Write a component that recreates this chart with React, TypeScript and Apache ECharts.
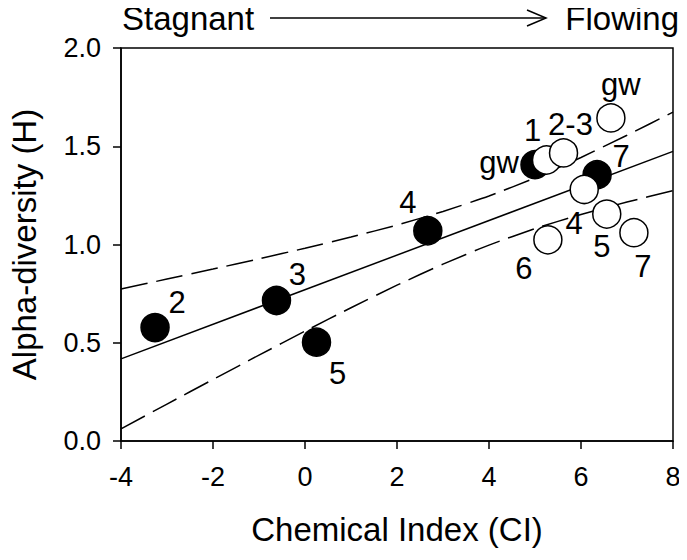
import React, { useEffect, useRef } from "react";
import * as echarts from "echarts";

// Filled circles
const filledLabels = ["2", "3", "5", "4", "gw", "7"];
const filledX = [-3.26, -0.62, 0.25, 2.67, 5.0, 6.35];
const filledY = [0.577, 0.715, 0.503, 1.07, 1.406, 1.355];

// Open circles
const openLabels = ["1", "2-3", "gw", "4", "5", "7", "6"];
const openX = [5.25, 5.62, 6.65, 6.07, 6.56, 7.15, 5.28];
const openY = [1.43, 1.466, 1.644, 1.28, 1.155, 1.06, 1.024];

// Regression line and confidence band
const fitX = [-4, 8];
const fitY = [0.418, 1.474];
const bandX = [-4, -3, -2, -1, 0, 1, 2, 3, 4, 5, 6, 7, 8];
const bandUpper = [0.774, 0.824, 0.875, 0.927, 0.981, 1.038, 1.099, 1.168, 1.247, 1.339, 1.443, 1.556, 1.674];
const bandLower = [0.062, 0.188, 0.313, 0.437, 0.559, 0.678, 0.793, 0.9, 0.997, 1.081, 1.153, 1.216, 1.274];

// Label offsets (pixels, style only)
const filledLabelOffsets: number[][] = [[22, -25], [21, -26], [21, 31], [-20, -28], [-36, -2], [24, -18]];
const openLabelOffsets: number[][] = [[-14, -30], [7, -28], [10, -33], [-10, 34], [-5, 32], [9, 34], [-24, 29]];

const FONT = "'Liberation Sans', Arial, sans-serif";

export default function App() {
  const ref = useRef<HTMLDivElement>(null);
  useEffect(() => {
    if (!ref.current) return;
    const chart = echarts.init(ref.current, undefined, { renderer: "svg" });
    const labelStyle = (off: number[], text: string) => ({
      show: true,
      position: "inside",
      offset: off,
      formatter: text,
      fontSize: 31,
      color: "#000",
      fontFamily: FONT,
      textBorderWidth: 0,
    });
    const option: any = {
      animation: false,
      backgroundColor: "#fff",
      textStyle: { fontFamily: FONT },
      grid: {
        left: 121,
        right: 14,
        top: 48,
        bottom: 119,
        show: true,
        borderColor: "#000",
        borderWidth: 1.5,
        backgroundColor: "transparent",
      },
      xAxis: {
        type: "value",
        min: -4,
        max: 8,
        interval: 2,
        axisLine: { show: true, onZero: false, lineStyle: { color: "#000", width: 1.5 } },
        axisTick: { show: true, inside: false, length: 8, lineStyle: { color: "#000", width: 1.5 } },
        axisLabel: { color: "#000", fontSize: 27, margin: 22, fontFamily: FONT },
        splitLine: { show: false },
        name: "Chemical Index (CI)",
        nameLocation: "middle",
        nameGap: 72,
        nameTextStyle: { color: "#000", fontSize: 33, fontFamily: FONT },
      },
      yAxis: {
        type: "value",
        min: 0,
        max: 2,
        interval: 0.5,
        axisLine: { show: true, onZero: false, lineStyle: { color: "#000", width: 1.5 } },
        axisTick: { show: true, inside: false, length: 8, lineStyle: { color: "#000", width: 1.5 } },
        axisLabel: {
          color: "#000",
          fontSize: 27,
          margin: 20,
          fontFamily: FONT,
          formatter: (v: number) => v.toFixed(1),
        },
        splitLine: { show: false },
        name: "Alpha-diversity (H)",
        nameLocation: "middle",
        nameGap: 80,
        nameTextStyle: { color: "#000", fontSize: 33, fontFamily: FONT },
      },
      graphic: [
        {
          type: "text",
          left: 122,
          top: 2,
          style: { text: "Stagnant", fontSize: 33, fontFamily: FONT, fill: "#000" },
        },
        {
          type: "text",
          right: 8,
          top: 2,
          style: { text: "Flowing", fontSize: 33, fontFamily: FONT, fill: "#000" },
        },
        {
          type: "line",
          shape: { x1: 270, y1: 18, x2: 546, y2: 18 },
          style: { stroke: "#000", lineWidth: 1.5 },
        },
        {
          type: "polyline",
          shape: { points: [[527, 10], [546, 18], [527, 26]] },
          style: { stroke: "#000", lineWidth: 1.5, fill: null },
        },
      ],
      series: [
        {
          type: "line",
          data: fitX.map((x, i) => [x, fitY[i]]),
          showSymbol: false,
          symbol: "none",
          lineStyle: { color: "#000", width: 1.5 },
          z: 1,
          silent: true,
        },
        {
          type: "line",
          data: bandX.map((x, i) => [x, bandUpper[i]]),
          showSymbol: false,
          symbol: "none",
          smooth: 0.2,
          lineStyle: { color: "#000", width: 1.5, type: [27, 9] },
          z: 1,
          silent: true,
        },
        {
          type: "line",
          data: bandX.map((x, i) => [x, bandLower[i]]),
          showSymbol: false,
          symbol: "none",
          smooth: 0.2,
          lineStyle: { color: "#000", width: 1.5, type: [27, 9] },
          z: 1,
          silent: true,
        },
        {
          type: "scatter",
          symbol: "circle",
          symbolSize: 28,
          itemStyle: { color: "#000", borderColor: "#000", borderWidth: 1.5, opacity: 1 },
          z: 3,
          data: filledX.map((x, i) => ({
            value: [x, filledY[i]],
            label: labelStyle(filledLabelOffsets[i], filledLabels[i]),
          })),
        },
        {
          type: "scatter",
          symbol: "circle",
          symbolSize: 28,
          itemStyle: { color: "#fff", borderColor: "#000", borderWidth: 1.5, opacity: 1 },
          z: 4,
          data: openX.map((x, i) => ({
            value: [x, openY[i]],
            label: labelStyle(openLabelOffsets[i], openLabels[i]),
          })),
        },
      ],
    };
    chart.setOption(option);
    return () => chart.dispose();
  }, []);
  return <div ref={ref} style={{ width: 687, height: 560, margin: -8 }} />;
}
